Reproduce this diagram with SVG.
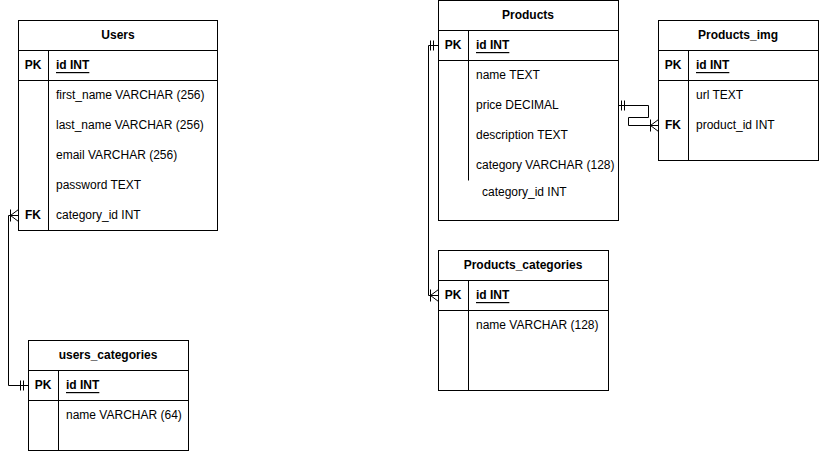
<svg xmlns="http://www.w3.org/2000/svg" width="819" height="451" viewBox="0 0 819 451">
<style>
.box{fill:#fff;stroke:#000;stroke-width:1}
.ln{stroke:#000;stroke-width:1;fill:none}
text{font-family:"Liberation Sans",Arial,sans-serif;font-size:12px;fill:#000;dominant-baseline:central}
.t{font-weight:bold;text-anchor:middle}
.k{font-weight:bold;text-anchor:middle}
.pk{font-weight:bold;text-decoration:underline}
</style>
<rect width="819" height="451" fill="#fff"/>
<g id="connectors" class="ln">
<path d="M18.5,215.5 H8.5 V385.5 H28.5"/>
<path d="M10.5,209.5 V221.5 M10.5,215.5 L18.5,209.5 M10.5,215.5 L18.5,221.5"/>
<path d="M20.5,380.5 V390.5 M23.5,380.5 V390.5"/>
<path d="M438.5,45.5 H428.5 V295.5 H438.5"/>
<path d="M430.5,40.5 V50.5 M433.5,40.5 V50.5"/>
<path d="M430.5,289.5 V301.5 M430.5,295.5 L438.5,289.5 M430.5,295.5 L438.5,301.5"/>
<path d="M618.5,105.5 H648.5 V117.5 H628.5 V125.5 H658.5"/>
<path d="M621.5,100.5 V110.5 M624.5,100.5 V110.5"/>
<path d="M650.5,119.5 V131.5 M650.5,125.5 L658.5,119.5 M650.5,125.5 L658.5,131.5"/>
</g>
<g id="users">
<rect class="box" x="18.5" y="20.5" width="199" height="210"/>
<path class="ln" d="M18.5,50.5 H217.5 M18.5,80.5 H217.5 M48.5,50.5 V230.5"/>
<text class="t" x="118" y="35">Users</text>
<text class="k" x="33" y="65">PK</text>
<text class="pk" x="56" y="65">id INT</text>
<text x="56" y="95">first_name VARCHAR (256)</text>
<text x="56" y="125">last_name VARCHAR (256)</text>
<text x="56" y="155">email VARCHAR (256)</text>
<text x="56" y="185">password TEXT</text>
<text class="k" x="33" y="215">FK</text>
<text x="56" y="215">category_id INT</text>
</g>
<g id="users_categories">
<rect class="box" x="28.5" y="340.5" width="160" height="110"/>
<path class="ln" d="M28.5,370.5 H188.5 M28.5,400.5 H188.5 M58.5,370.5 V450.5"/>
<text class="t" x="108" y="355">users_categories</text>
<text class="k" x="43" y="385">PK</text>
<text class="pk" x="66" y="385">id INT</text>
<text x="66" y="415">name VARCHAR (64)</text>
</g>
<g id="products">
<rect class="box" x="438.5" y="0.5" width="180" height="220"/>
<path class="ln" d="M438.5,30.5 H618.5 M438.5,60.5 H618.5 M468.5,30.5 V180.5"/>
<text class="t" x="528" y="15">Products</text>
<text class="k" x="453" y="45">PK</text>
<text class="pk" x="476" y="45">id INT</text>
<text x="476" y="75">name TEXT</text>
<text x="476" y="105">price DECIMAL</text>
<text x="476" y="135">description TEXT</text>
<text x="476" y="165">category VARCHAR (128)</text>
<text x="482" y="192">category_id INT</text>
</g>
<g id="products_img">
<rect class="box" x="658.5" y="20.5" width="160" height="140"/>
<path class="ln" d="M658.5,50.5 H818.5 M658.5,80.5 H818.5 M688.5,50.5 V160.5"/>
<text class="t" x="738" y="35">Products_img</text>
<text class="k" x="673" y="65">PK</text>
<text class="pk" x="696" y="65">id INT</text>
<text x="696" y="95">url TEXT</text>
<text class="k" x="673" y="125">FK</text>
<text x="696" y="125">product_id INT</text>
</g>
<g id="products_categories">
<rect class="box" x="438.5" y="250.5" width="170" height="140"/>
<path class="ln" d="M438.5,280.5 H608.5 M438.5,310.5 H608.5 M468.5,280.5 V390.5"/>
<text class="t" x="523" y="265">Products_categories</text>
<text class="k" x="453" y="295">PK</text>
<text class="pk" x="476" y="295">id INT</text>
<text x="476" y="325">name VARCHAR (128)</text>
</g>
</svg>
